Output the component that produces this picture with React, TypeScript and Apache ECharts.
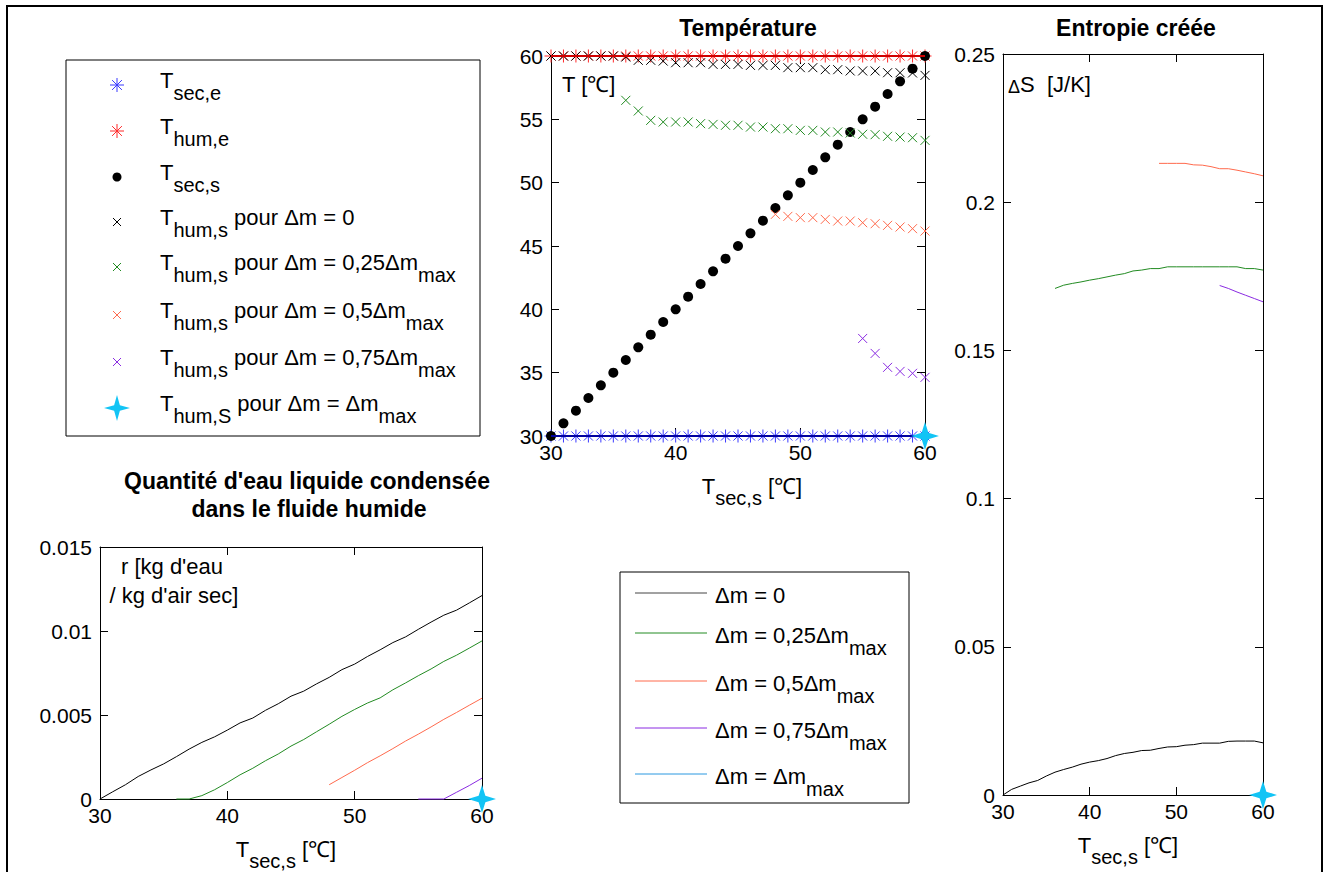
import React, { useEffect, useRef } from 'react';
import * as echarts from 'echarts';

// ---------- data ----------
const xAll = [30, 31, 32, 33, 34, 35, 36, 37, 38, 39, 40, 41, 42, 43, 44, 45, 46, 47, 48, 49, 50, 51, 52, 53, 54, 55, 56, 57, 58, 59, 60];
const x36 = [36, 37, 38, 39, 40, 41, 42, 43, 44, 45, 46, 47, 48, 49, 50, 51, 52, 53, 54, 55, 56, 57, 58, 59, 60];
const x48 = [48, 49, 50, 51, 52, 53, 54, 55, 56, 57, 58, 59, 60];
const x55 = [55, 56, 57, 58, 59, 60];
const xMax = [60];

// Temperature (°C)
const tSecE = [30, 30, 30, 30, 30, 30, 30, 30, 30, 30, 30, 30, 30, 30, 30, 30, 30, 30, 30, 30, 30, 30, 30, 30, 30, 30, 30, 30, 30, 30, 30];
const tHumE = [60, 60, 60, 60, 60, 60, 60, 60, 60, 60, 60, 60, 60, 60, 60, 60, 60, 60, 60, 60, 60, 60, 60, 60, 60, 60, 60, 60, 60, 60, 60];
const tSecS = [30, 31, 32, 33, 34, 35, 36, 37, 38, 39, 40, 41, 42, 43, 44, 45, 46, 47, 48, 49, 50, 51, 52, 53, 54, 55, 56, 57, 58, 59, 60];
const tHumS0 = [60, 60, 60, 60, 60, 60, 59.92, 59.66, 59.66, 59.6, 59.47, 59.47, 59.47, 59.34, 59.34, 59.34, 59.26, 59.26, 59.26, 59.08, 59.08, 59.08, 58.92, 58.92, 58.82, 58.82, 58.82, 58.68, 58.68, 58.66, 58.47];
const tHumS25 = [56.5, 55.66, 54.92, 54.79, 54.79, 54.79, 54.66, 54.6, 54.53, 54.53, 54.39, 54.39, 54.26, 54.26, 54.13, 54.13, 54.0, 54.0, 53.92, 53.82, 53.79, 53.66, 53.6, 53.55, 53.34];
const tHumS50 = [47.5, 47.34, 47.24, 47.24, 47.1, 46.97, 46.97, 46.84, 46.76, 46.63, 46.5, 46.37, 46.18];
const tHumS75 = [37.7, 36.52, 35.42, 35.1, 34.95, 34.63];
const tHumSMax = [30];

// Entropy created (J/K)
const dS0 = [0, 0.0019, 0.003, 0.0041, 0.0049, 0.0064, 0.0077, 0.0086, 0.0094, 0.0104, 0.0111, 0.0116, 0.0123, 0.0133, 0.014, 0.0144, 0.015, 0.0151, 0.0157, 0.0162, 0.0163, 0.0168, 0.017, 0.0175, 0.0175, 0.0175, 0.0181, 0.0182, 0.0182, 0.0182, 0.0176];
const dS25 = [0.1709, 0.172, 0.1726, 0.1731, 0.1737, 0.1742, 0.1748, 0.1754, 0.1759, 0.1768, 0.1771, 0.1776, 0.1776, 0.1782, 0.1782, 0.1782, 0.1782, 0.1782, 0.1782, 0.1782, 0.1782, 0.1782, 0.1776, 0.1776, 0.1771];
const dS50 = [0.2131, 0.2131, 0.2131, 0.2131, 0.2126, 0.2125, 0.212, 0.2113, 0.2113, 0.2108, 0.2102, 0.2096, 0.2089];
const dS75 = [0.1719, 0.1709, 0.1697, 0.1686, 0.1675, 0.1664];
const dSMax = [0];

// Condensed water (kg water / kg dry air)
const r0 = [0, 0.00043, 0.00085, 0.00134, 0.00173, 0.00209, 0.00252, 0.00297, 0.00337, 0.0037, 0.0041, 0.00453, 0.00482, 0.00528, 0.00567, 0.00612, 0.00642, 0.00685, 0.00724, 0.0077, 0.00803, 0.00848, 0.00888, 0.00931, 0.00965, 0.0101, 0.01053, 0.01094, 0.01124, 0.01167, 0.01211];
const r25 = [0, 0, 0.0002, 0.00055, 0.00098, 0.00144, 0.00183, 0.00228, 0.00268, 0.00315, 0.00354, 0.004, 0.00445, 0.00492, 0.00533, 0.00571, 0.00602, 0.0065, 0.00691, 0.00734, 0.00774, 0.00819, 0.00856, 0.00898, 0.00941];
const r50 = [0.00085, 0.00128, 0.00171, 0.00216, 0.00257, 0.003, 0.00345, 0.00386, 0.00429, 0.00474, 0.00515, 0.00558, 0.006];
const r75 = [0, 0, 0, 0.0004, 0.0008, 0.00124];
const rMax = [0];

// tick values
const xTicks = [30, 40, 50, 60];
const tempYTicks = [30, 35, 40, 45, 50, 55, 60];
const entYTicks = [0, 0.05, 0.1, 0.15, 0.2, 0.25];
const waterYTicks = [0, 0.005, 0.01, 0.015];

// ---------- styling ----------
const FONT = '"Liberation Sans", Arial, Helvetica, sans-serif';
const C_BLACK = '#000000';
const C_GREEN = '#228b22';
const C_ORANGE = '#ff6a4d';
const C_PURPLE = '#8a2be2';
const C_CYAN = '#12c4f5';
const C_CYANLINE = '#2a98e0';
const C_BLUE = '#3a3aff';
const C_BLUELINE = '#0000a0';
const C_RED = '#ff2a2a';
const C_REDLINE = '#d00000';

const ASTER = 'path://M0,-10L0,10M-10,0L10,0M-7,-7L7,7M-7,7L7,-7';
const CROSS = 'path://M-10,-10L10,10M-10,10L10,-10';
const STAR4 = 'path://M0,-10L2.4,-2.4L10,0L2.4,2.4L0,10L-2.4,2.4L-10,0L-2.4,-2.4Z';

const zip = (xs: number[], ys: number[]) => xs.map((x, i) => [x, ys[i]]);

const richSub = {
  m: { fontSize: 22, fontFamily: FONT, color: '#000', verticalAlign: 'top' },
  s: { fontSize: 20, fontFamily: FONT, color: '#000', lineHeight: 33, verticalAlign: 'bottom' },
};
const gRich = {
  m: { fontSize: 22, fontFamily: FONT, fill: '#000', verticalAlign: 'top' },
  s: { fontSize: 20, fontFamily: FONT, fill: '#000', lineHeight: 33, verticalAlign: 'bottom' },
};

function axisPair(kind: 'x' | 'y', gridIndex: number, ticks: number[], name?: string, namePad?: number[]) {
  const min = ticks[0];
  const max = ticks[ticks.length - 1];
  const interval = ticks[1] - ticks[0];
  const common = {
    type: 'value',
    gridIndex,
    min,
    max,
    interval,
    axisLine: { show: true, onZero: false, lineStyle: { color: '#000', width: 1 } },
    axisTick: { show: true, inside: true, length: 8, lineStyle: { color: '#000', width: 1 } },
    splitLine: { show: false },
  };
  const main: any = {
    ...common,
    position: kind === 'x' ? 'bottom' : 'left',
    axisLabel: { show: true, color: '#000', fontSize: 21, fontFamily: FONT, margin: kind === 'x' ? 6 : 8 },
  };
  if (name) {
    main.name = name;
    main.nameLocation = 'middle';
    main.nameGap = 39;
    main.nameTextStyle = { rich: richSub, padding: namePad || [0, 0, 0, 0] };
  }
  const opp: any = {
    ...common,
    position: kind === 'x' ? 'top' : 'right',
    axisLabel: { show: false },
  };
  return [main, opp];
}

const X_NAME = '{m|T}{s|sec,s}{m| [℃]}';

function lineSeries(name: string, xi: number, data: number[][], color: string, width = 1) {
  return {
    name,
    type: 'line',
    xAxisIndex: xi,
    yAxisIndex: xi,
    data,
    symbol: 'none',
    clip: false,
    lineStyle: { color, width },
    itemStyle: { color },
    silent: true,
  };
}

function markerSeries(name: string, data: number[][], symbol: string, size: number, color: string) {
  return {
    name,
    type: 'scatter',
    xAxisIndex: 0,
    yAxisIndex: 0,
    data,
    symbol,
    symbolSize: size,
    clip: false,
    itemStyle: { color: 'transparent', borderColor: color, borderWidth: 1, opacity: 1 },
    silent: true,
  };
}

function starSeries(name: string, xi: number, data: number[][]) {
  return {
    name,
    type: 'scatter',
    xAxisIndex: xi,
    yAxisIndex: xi,
    data,
    symbol: STAR4,
    symbolSize: 28,
    clip: false,
    itemStyle: { color: C_CYAN, opacity: 1 },
    silent: true,
    z: 5,
  };
}

// ---------- legend helpers (graphic) ----------
function gLine(x1: number, y1: number, x2: number, y2: number, color: string, w = 1) {
  return { type: 'line', shape: { x1, y1, x2, y2 }, style: { stroke: color, lineWidth: w } };
}
function gAsterisk(cx: number, cy: number, r: number, color: string) {
  const d = r * 0.7;
  return {
    type: 'group',
    children: [
      gLine(cx, cy - r, cx, cy + r, color),
      gLine(cx - r, cy, cx + r, cy, color),
      gLine(cx - d, cy - d, cx + d, cy + d, color),
      gLine(cx - d, cy + d, cx + d, cy - d, color),
    ],
  };
}
function gCross(cx: number, cy: number, r: number, color: string) {
  return {
    type: 'group',
    children: [gLine(cx - r, cy - r, cx + r, cy + r, color), gLine(cx - r, cy + r, cx + r, cy - r, color)],
  };
}
function gStar(cx: number, cy: number, r: number, color: string) {
  const k = r * 0.22;
  return {
    type: 'polygon',
    shape: {
      points: [
        [cx, cy - r], [cx + k, cy - k], [cx + r, cy], [cx + k, cy + k],
        [cx, cy + r], [cx - k, cy + k], [cx - r, cy], [cx - k, cy - k],
      ],
    },
    style: { fill: color },
  };
}
function gRichText(x: number, y: number, text: string) {
  return {
    type: 'text',
    x,
    y,
    style: { text, rich: gRich, fontSize: 22, fontFamily: FONT, fill: '#000', align: 'left', verticalAlign: 'middle' },
  };
}
function gText(x: number, y: number, text: string, size = 21, bold = false, align = 'center') {
  return {
    type: 'text',
    x,
    y,
    style: { text, fontSize: size, fontWeight: bold ? 'bold' : 'normal', fontFamily: FONT, fill: '#000', align, verticalAlign: 'middle' },
  };
}

const legend1Labels = [
  '{m|T}{s|sec,e}',
  '{m|T}{s|hum,e}',
  '{m|T}{s|sec,s}',
  '{m|T}{s|hum,s}{m| pour Δm = 0}',
  '{m|T}{s|hum,s}{m| pour Δm = 0,25Δm}{s|max}',
  '{m|T}{s|hum,s}{m| pour Δm = 0,5Δm}{s|max}',
  '{m|T}{s|hum,s}{m| pour Δm = 0,75Δm}{s|max}',
  '{m|T}{s|hum,S}{m| pour Δm = Δm}{s|max}',
];
const legend2Labels = [
  '{m|Δm = 0}',
  '{m|Δm = 0,25Δm}{s|max}',
  '{m|Δm = 0,5Δm}{s|max}',
  '{m|Δm = 0,75Δm}{s|max}',
  '{m|Δm = Δm}{s|max}',
];
const legend2Colors = ['#444444', C_GREEN, C_ORANGE, C_PURPLE, C_CYANLINE];

function buildGraphic() {
  const g: any[] = [];
  // outer figure border
  g.push({ type: 'rect', shape: { x: 7, y: 6, width: 1315, height: 900 }, style: { fill: 'none', stroke: '#000', lineWidth: 2 } });
  // titles
  g.push(gText(748, 28, 'Température', 23, true));
  g.push(gText(1136, 28, 'Entropie créée', 23, true));
  g.push(gText(307, 481, 'Quantité d\'eau liquide condensée', 23, true));
  g.push(gText(309, 509, 'dans le fluide humide', 23, true));
  // inner y labels
  g.push(gText(562, 84, 'T [℃]', 22, false, 'left'));
  g.push({
    type: 'text', x: 1008, y: 84,
    style: {
      text: '{d|Δ}{m|S  [J/K]}',
      rich: { d: { fontSize: 18, fontFamily: FONT, fill: '#000', verticalAlign: 'bottom', lineHeight: 24 }, m: { fontSize: 22, fontFamily: FONT, fill: '#000', lineHeight: 24 } },
      align: 'left', verticalAlign: 'middle', fill: '#000',
    },
  });
  g.push(gText(172, 566, 'r [kg d\'eau', 22));
  g.push(gText(174, 595, '/ kg d\'air sec]', 22));

  // legend 1
  g.push({ type: 'rect', shape: { x: 66, y: 60, width: 414, height: 376 }, style: { fill: '#fff', stroke: '#000', lineWidth: 1 } });
  const ys1 = [85, 131, 177, 222, 267, 315, 362, 408];
  const mx = 117;
  g.push(gAsterisk(mx, ys1[0], 7, C_BLUE));
  g.push(gAsterisk(mx, ys1[1], 7, C_RED));
  g.push({ type: 'circle', shape: { cx: mx, cy: ys1[2], r: 4.5 }, style: { fill: '#000' } });
  g.push(gCross(mx, ys1[3], 4, C_BLACK));
  g.push(gCross(mx, ys1[4], 4, C_GREEN));
  g.push(gCross(mx, ys1[5], 4, C_ORANGE));
  g.push(gCross(mx, ys1[6], 4, C_PURPLE));
  g.push(gStar(mx, ys1[7], 13, C_CYAN));
  legend1Labels.forEach((t, i) => g.push(gRichText(160, ys1[i] + 1, t)));

  // legend 2
  g.push({ type: 'rect', shape: { x: 620, y: 572, width: 289, height: 231 }, style: { fill: '#fff', stroke: '#000', lineWidth: 1 } });
  const ys2 = [593, 633, 681, 728, 774];
  ys2.forEach((y, i) => {
    g.push(gLine(635, y, 707, y, legend2Colors[i], 1));
    g.push(gRichText(715, i === 0 ? y + 2 : y + 8, legend2Labels[i]));
  });
  return g;
}

function buildOption() {
  const [tx, txTop] = axisPair('x', 0, xTicks, X_NAME, [0, 0, 0, 28]);
  const [ty, tyR] = axisPair('y', 0, tempYTicks);
  const [ex, exTop] = axisPair('x', 1, xTicks, X_NAME, [0, 10, 0, 0]);
  const [ey, eyR] = axisPair('y', 1, entYTicks);
  const [wx, wxTop] = axisPair('x', 2, xTicks, X_NAME, [0, 10, 0, 0]);
  const [wy, wyR] = axisPair('y', 2, waterYTicks);

  return {
    animation: false,
    backgroundColor: '#ffffff',
    textStyle: { fontFamily: FONT },
    grid: [
      { left: 551, top: 56, width: 374, height: 380 },
      { left: 1003, top: 54, width: 260, height: 745 },
      { left: 100, top: 547, width: 382, height: 254 },
    ],
    xAxis: [tx, txTop, ex, exTop, wx, wxTop],
    yAxis: [ty, tyR, ey, eyR, wy, wyR],
    graphic: buildGraphic(),
    series: [
      // Temperature: markers then connecting lines drawn on top
      markerSeries('T sec,e', zip(xAll, tSecE), ASTER, 13, C_BLUE),
      lineSeries('T sec,e (ligne)', 0, zip(xAll, tSecE), C_BLUELINE, 2),
      markerSeries('T hum,e', zip(xAll, tHumE), ASTER, 13, C_RED),
      lineSeries('T hum,e (ligne)', 0, zip(xAll, tHumE), C_REDLINE, 2),
      {
        name: 'T sec,s', type: 'scatter', xAxisIndex: 0, yAxisIndex: 0, data: zip(xAll, tSecS),
        symbol: 'circle', symbolSize: 10, clip: false, silent: true, itemStyle: { color: '#000', opacity: 1 },
      },
      markerSeries('T hum,s Δm=0', zip(xAll, tHumS0), CROSS, 9, C_BLACK),
      markerSeries('T hum,s Δm=0,25Δmmax', zip(x36, tHumS25), CROSS, 9, C_GREEN),
      markerSeries('T hum,s Δm=0,5Δmmax', zip(x48, tHumS50), CROSS, 9, C_ORANGE),
      markerSeries('T hum,s Δm=0,75Δmmax', zip(x55, tHumS75), CROSS, 9, C_PURPLE),
      starSeries('T hum,s Δm=Δmmax', 0, zip(xMax, tHumSMax)),
      // Entropy
      lineSeries('ΔS Δm=0', 2, zip(xAll, dS0), C_BLACK),
      lineSeries('ΔS Δm=0,25Δmmax', 2, zip(x36, dS25), C_GREEN),
      lineSeries('ΔS Δm=0,5Δmmax', 2, zip(x48, dS50), C_ORANGE),
      lineSeries('ΔS Δm=0,75Δmmax', 2, zip(x55, dS75), C_PURPLE),
      starSeries('ΔS Δm=Δmmax', 2, zip(xMax, dSMax)),
      // Water
      lineSeries('r Δm=0', 4, zip(xAll, r0), C_BLACK),
      lineSeries('r Δm=0,25Δmmax', 4, zip(x36, r25), C_GREEN),
      lineSeries('r Δm=0,5Δmmax', 4, zip(x48, r50), C_ORANGE),
      lineSeries('r Δm=0,75Δmmax', 4, zip(x55, r75), C_PURPLE),
      starSeries('r Δm=Δmmax', 4, zip(xMax, rMax)),
    ],
  };
}

export default function App() {
  const ref = useRef<HTMLDivElement>(null);
  useEffect(() => {
    if (!ref.current) return;
    const chart = echarts.init(ref.current, undefined, { renderer: 'svg' });
    chart.setOption(buildOption() as any);
    return () => chart.dispose();
  }, []);
  return (
    <div
      ref={ref}
      style={{ position: 'fixed', left: 0, top: 0, width: 1323, height: 872, background: '#fff' }}
    />
  );
}
